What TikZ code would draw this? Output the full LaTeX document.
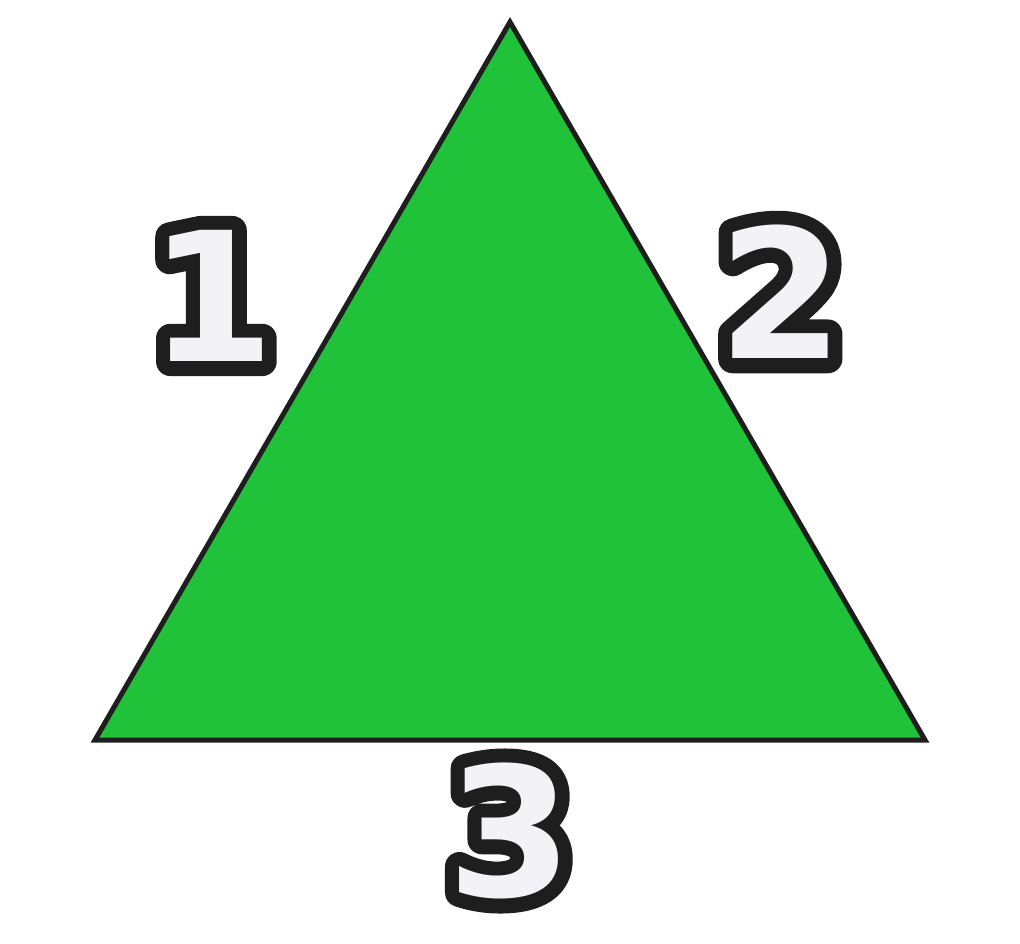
\documentclass[tikz,border=0pt]{standalone}
\usepackage{fontspec}
\setmainfont{DejaVu Sans}
\newfontfamily\rimfont[FakeBold=16]{DejaVu Sans Bold}
\definecolor{leaf}{HTML}{20C23A}
\definecolor{ink}{HTML}{1E1E1E}
\definecolor{paper}{HTML}{F2F2F7}
\begin{document}
\begin{tikzpicture}[x=1pt, y=-1pt,
    rim/.style={font=\rimfont\fontsize{180}{180}\selectfont, text=ink, inner sep=0pt},
    num/.style={font=\bfseries\fontsize{180}{180}\selectfont, text=paper, inner sep=0pt}]
    \useasboundingbox (0,0) rectangle (1020,943);
    \special{pdf:literal direct 1 j}
    \coordinate (top) at (510,22);
    \coordinate (left) at (95,740);
    \coordinate (right) at (925,740);
    \draw[ink, line width=5, line join=miter, fill=leaf](top)--(left)--(right)--cycle;
    % outlined digits: dark rim under a light face
    \node[rim] (onerim) at (212,296){1};
    \node[num] (one) at (onerim){1};
    \node[rim] (tworim) at (781,292){2};
    \node[num] (two) at (tworim){2};
    \node[rim] (threerim) at (510,831){3};
    \node[num] (three) at (threerim){3};
\end{tikzpicture}
\end{document}
